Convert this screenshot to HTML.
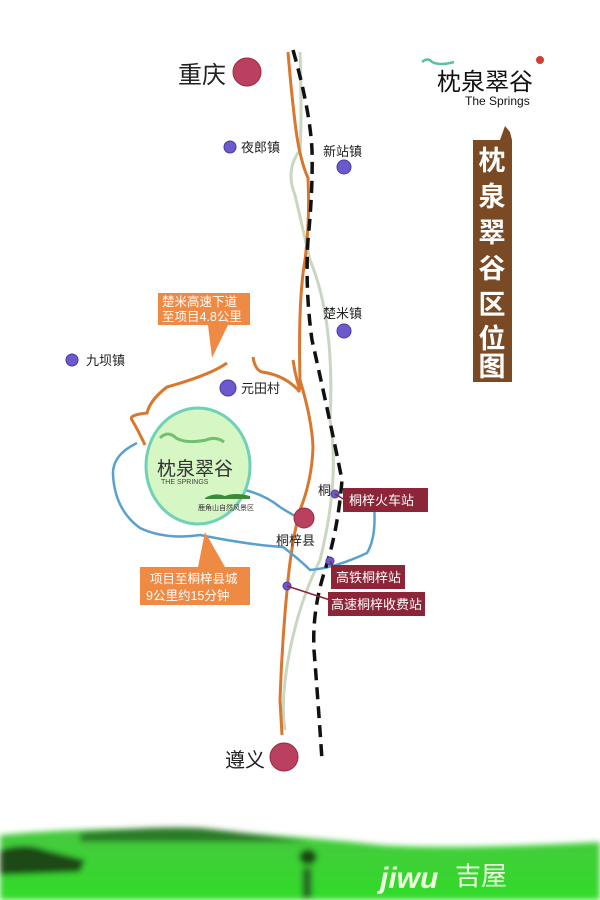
<!DOCTYPE html>
<html><head><meta charset="utf-8"><style>
html,body{margin:0;padding:0;background:#fff;}
svg{display:block}
text{font-family:"Liberation Sans","Noto Sans CJK SC",sans-serif;}
</style></head><body>
<svg width="600" height="900" viewBox="0 0 600 900" xmlns="http://www.w3.org/2000/svg">
<defs>
<linearGradient id="g" x1="0" y1="0" x2="0" y2="1">
<stop offset="0" stop-color="#48c840"/><stop offset="1" stop-color="#30dc28"/>
</linearGradient>
<filter id="b"><feGaussianBlur stdDeviation="3"/></filter>
</defs>
<rect width="600" height="900" fill="#fff"/>
<!-- bottom grass -->
<g filter="url(#b)">
<path d="M0 835 Q100 826 200 830 Q320 838 380 845 Q450 850 600 842 L600 900 L0 900 Z" fill="url(#g)"/>
<path d="M80 833 Q150 826 200 828 Q260 834 310 842 L80 842 Z" fill="#2a7a25"/>
<path d="M0 850 Q25 842 45 850 L85 860 L80 872 L0 875 Z" fill="#1a4a16"/>
<ellipse cx="308" cy="857" rx="9" ry="8" fill="#1a4a18"/>
<rect x="302" y="868" width="10" height="30" fill="#2a6a25"/>
</g>
<text x="380" y="888" font-size="30" font-weight="bold" fill="#f0ffe0" font-style="italic">jiwu</text>
<text x="455" y="885" font-size="26" fill="#f0ffe0">吉屋</text>

<!-- light gray road -->
<path d="M300 52 Q302 120 300 150 Q285 170 295 195 L310 260 Q335 320 330 420 Q340 480 320 560 Q300 600 290 650 Q280 700 285 730" fill="none" stroke="#c9d6c0" stroke-width="3"/>

<!-- orange loops -->
<g fill="none" stroke="#d8772d" stroke-width="3">
<path d="M288 52 Q292 100 296 130 Q300 160 308 178 Q310 220 305 260 Q298 300 300 380 Q312 420 313 447 Q312 480 300 510 Q292 540 288 580 Q282 640 280 700 L282 735"/>
<path d="M227 363 Q210 375 167 387 Q150 400 147 413 Q128 415 132 420 Q138 430 145 445"/>
<path d="M253 357 Q255 370 262 372 Q285 375 300 392"/>
<path d="M293 360 Q295 375 300 390"/>
</g>
<!-- blue -->
<g fill="none" stroke="#5aa0cf" stroke-width="2.5">
<path d="M137 443 Q112 455 113 475 Q115 510 140 528 Q165 540 200 535 Q250 545 283 547 Q300 560 310 570 Q335 568 367 553 Q378 535 373 495"/>
<path d="M245 490 Q265 495 280 507 Q292 515 300 518"/>
</g>
<!-- dashed railway -->
<path d="M293 50 Q310 110 312 150 Q313 190 308 240 Q305 290 312 340 Q330 420 342 480 Q338 530 325 570 Q312 610 314 650 Q318 700 322 760" fill="none" stroke="#111" stroke-width="3.5" stroke-dasharray="12,7"/>

<!-- green circle -->
<ellipse cx="198" cy="466" rx="52" ry="58" fill="#d6f6c4" stroke="#70d0b8" stroke-width="3"/>
<path d="M160 438 q8 -8 16 0 q10 6 30 2 q10 -4 18 2" fill="none" stroke="#70c070" stroke-width="3"/>
<text x="157" y="475" font-size="19" fill="#333">枕泉翠谷</text>
<text x="161" y="484" font-size="7" fill="#444">THE SPRINGS</text>
<path d="M205 498 q10 -6 20 -2 q10 -4 25 0 v3 h-45z" fill="#3a8a3a"/>
<text x="198" y="510" font-size="7" fill="#333">鹿角山自然风景区</text>

<!-- callouts -->
<path d="M158 293 H250 V325 H228 L212 358 L208 325 H158 Z" fill="#ef8a45"/>
<text x="162" y="306" font-size="12.5" fill="#fff">楚米高速下道</text>
<text x="162" y="321" font-size="12.5" fill="#fff">至项目4.8公里</text>
<path d="M140 567 H198 L205 532 L225 567 H250 V605 H140 Z" fill="#ef8a45"/>
<text x="150" y="583" font-size="12.5" fill="#fff">项目至桐梓县城</text>
<text x="146" y="600" font-size="12.5" fill="#fff">9公里约15分钟</text>

<!-- red city circles -->
<g fill="#b9405e" stroke="#9a2a44" stroke-width="1">
<circle cx="247" cy="72" r="14"/>
<circle cx="284" cy="757" r="14"/>
<circle cx="304" cy="518" r="10"/>
</g>
<text x="178" y="83" font-size="24" fill="#222">重庆</text>
<text x="225" y="767" font-size="20" fill="#222">遵义</text>
<text x="276" y="545" font-size="13" fill="#222">桐梓县</text>

<!-- purple dots -->
<g fill="#6a5acd" stroke="#4a3aa0" stroke-width="1">
<circle cx="230" cy="147" r="6"/>
<circle cx="344" cy="167" r="7"/>
<circle cx="344" cy="331" r="7"/>
<circle cx="72" cy="360" r="6"/>
<circle cx="228" cy="388" r="8"/>
<circle cx="335" cy="494" r="4"/>
<circle cx="330" cy="561" r="4"/>
<circle cx="287" cy="586" r="4"/>
</g>
<g font-size="13" fill="#222">
<text x="241" y="152">夜郎镇</text>
<text x="323" y="156">新站镇</text>
<text x="323" y="318">楚米镇</text>
<text x="86" y="365">九坝镇</text>
<text x="241" y="393">元田村</text>
<text x="318" y="495">桐</text>
</g>
<!-- red labels -->
<g fill="#8b2537">
<rect x="343" y="488" width="85" height="24"/>
<rect x="331" y="565" width="74" height="24"/>
<rect x="328" y="592" width="97" height="24"/>
</g>
<g stroke="#8b2537" stroke-width="1.5">
<line x1="335" y1="494" x2="345" y2="500"/><line x1="330" y1="561" x2="335" y2="570"/><line x1="287" y1="586" x2="330" y2="600"/>
</g>
<g font-size="13" fill="#fff">
<text x="349" y="505">桐梓火车站</text>
<text x="336" y="582">高铁桐梓站</text>
<text x="331" y="609">高速桐梓收费站</text>
</g>

<!-- logo -->
<path d="M422 62 q6 -5 10 0 q8 4 22 0" fill="none" stroke="#5cc0a0" stroke-width="2.5"/>
<circle cx="540" cy="60" r="4" fill="#d04030"/>
<text x="437" y="90" font-size="24" fill="#111" font-family="Liberation Serif,'Noto Serif CJK SC',serif">枕泉翠谷</text>
<text x="465" y="105" font-size="12" fill="#111" font-family="Liberation Serif,serif">The Springs</text>
<!-- brown bar -->
<path d="M473 140 H500 L505 126 L510 132 L512 140 V382 H473 Z" fill="#7a4a24"/>
<g font-size="27" fill="#fff" text-anchor="middle" font-weight="bold">
<text x="492" y="170">枕</text><text x="492" y="206">泉</text><text x="492" y="242">翠</text>
<text x="492" y="278">谷</text><text x="492" y="314">区</text><text x="492" y="348">位</text>
<text x="492" y="376">图</text>
</g>
</svg>
</body></html>
